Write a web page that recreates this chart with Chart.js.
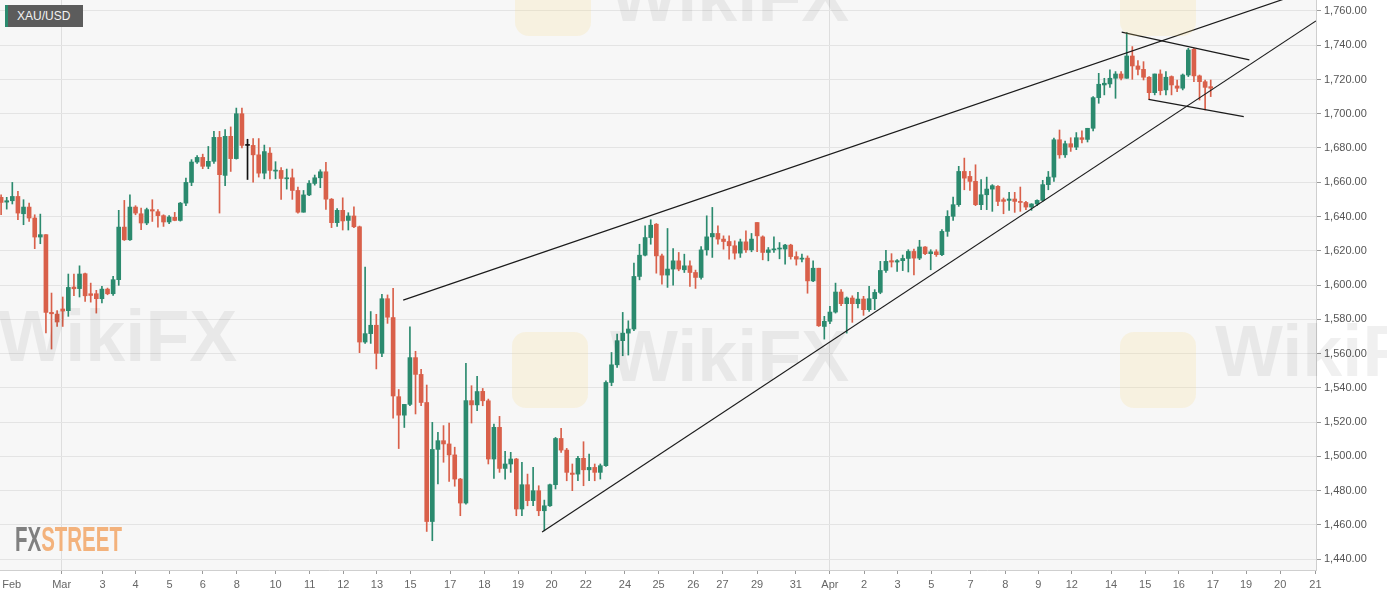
<!DOCTYPE html>
<html>
<head>
<meta charset="utf-8">
<script src="https://cdn.jsdelivr.net/npm/chart.js@4.4.1/dist/chart.umd.min.js"></script>
<style>
  html, body { margin: 0; padding: 0; background: #fff; }
  #wrap { position: relative; width: 1387px; height: 598px; overflow: hidden; }
  #chart { position: absolute; left: 0; top: 0; }
  .wm { position: absolute; font-family: "Liberation Sans", Arial, sans-serif; font-weight: bold;
        font-size: 72px; color: rgba(0,0,0,0.06); pointer-events: none; }
  .wmlogo { position: absolute; width: 76px; height: 76px; border-radius: 14px;
            background: rgba(250,215,120,0.18); pointer-events: none; }
  #pair { position: absolute; left: 5px; top: 5px; width: 78px; height: 22px; background: #5c5c5c;
          border-left: 3px solid #2b8a6e; color: #f2f2f2; font: 12px "Liberation Sans", Arial, sans-serif;
          line-height: 22px; padding-left: 9px; box-sizing: border-box; }
  #logo { position: absolute; left: 15px; top: 519px; font-family: "Liberation Sans", Arial, sans-serif;
          font-weight: bold; font-size: 35px; transform: scaleX(0.585); transform-origin: left top; white-space: nowrap; }
  #logo .fx { color: #808080; }
  #logo .st { color: #f3b27c; }
</style>
</head>
<body>
<div id="wrap">
  <canvas id="chart" width="1387" height="598"></canvas>
  <div class="wmlogo" style="left:515px;top:-40px"></div>
  <div class="wm" style="left:610px;top:-45px">WikiFX</div>
  <div class="wmlogo" style="left:1120px;top:-40px"></div>
  <div class="wm" style="left:-2px;top:295px">WikiFX</div>
  <div class="wmlogo" style="left:512px;top:332px"></div>
  <div class="wm" style="left:610px;top:315px">WikiFX</div>
  <div class="wmlogo" style="left:1120px;top:332px"></div>
  <div class="wm" style="left:1215px;top:310px">WikiFX</div>
  <div id="pair">XAU/USD</div>
  <div id="logo"><span class="fx">FX</span><span class="st">STREET</span></div>
</div>
<script>
// 4h candles, XAU/USD, late Feb - Apr 17
const opens = [
  1651.2,1648.4,1649.2,1651.7,1641.6,1645.5,1639.1,1628.0,1629.4,1584.0,
  1583.0,1586.0,1585.0,1598.8,1597.9,1606.6,1594.9,1594.9,1592.0,1597.6,
  1594.9,1603.1,1633.8,1626.4,1645.5,1641.6,1636.2,1644.0,1642.8,1640.5,
  1636.8,1639.5,1637.7,1647.8,1659.9,1671.8,1674.5,1669.3,1672.2,1686.2,
  1664.0,1686.8,1673.8,1700.0,1681.5,1681.5,1676.0,1665.3,1677.0,1666.5,
  1666.9,1662.0,1662.6,1655.2,1642.5,1652.6,1659.3,1662.6,1666.1,1650.1,
  1636.4,1643.6,1637.7,1640.3,1634.0,1566.7,1571.6,1576.5,1560.1,1592.0,
  1581.0,1534.8,1524.0,1530.3,1557.6,1547.8,1531.4,1461.9,1504.0,1509.1,
  1507.2,1500.8,1486.7,1472.7,1532.5,1530.0,1537.9,1532.4,1498.4,1516.9,
  1492.9,1495.5,1498.4,1469.2,1483.4,1474.1,1479.9,1468.2,1471.1,1483.4,
  1510.4,1503.6,1490.2,1489.6,1498.8,1492.1,1493.5,1490.6,1494.5,1543.1,
  1553.4,1567.5,1571.9,1574.3,1605.0,1617.4,1627.7,1635.5,1617.0,1605.8,
  1609.3,1614.1,1608.9,1611.2,1607.3,1604.4,1620.5,1628.1,1630.1,1626.8,
  1625.4,1622.9,1618.6,1625.2,1620.5,1636.5,1628.1,1619.0,1620.5,1621.0,
  1621.0,1623.3,1616.6,1615.1,1615.7,1602.4,1609.8,1575.8,1578.8,1584.2,
  1595.9,1589.1,1592.4,1589.1,1591.8,1585.6,1592.0,1595.7,1608.5,1614.2,
  1613.4,1614.2,1615.5,1619.6,1615.7,1622.2,1618.3,1619.4,1617.7,1631.3,
  1640.1,1646.9,1666.3,1663.4,1660.5,1646.9,1652.7,1656.0,1657.6,1649.8,
  1649.4,1650.2,1648.8,1648.2,1645.5,1647.3,1649.4,1658.6,1663.0,1684.8,
  1676.0,1682.5,1680.5,1686.0,1685.0,1691.5,1709.4,1716.8,1717.4,1720.7,
  1723.2,1720.7,1733.7,1727.9,1725.9,1721.3,1712.3,1723.2,1713.9,1721.7,
  1716.2,1714.9,1722.6,1737.6,1722.1,1718.7,1715.8
];
const highs = [
  1652.7,1651.2,1659.9,1654.7,1649.8,1647.9,1641.0,1641.4,1629.4,1595.3,
  1585.1,1593.0,1606.4,1606.4,1611.2,1607.0,1601.1,1596.9,1599.2,1598.2,
  1605.0,1643.6,1649.4,1652.7,1646.3,1644.9,1644.9,1649.8,1644.0,1641.0,
  1640.5,1642.4,1648.2,1662.4,1673.2,1675.5,1676.4,1680.9,1689.7,1689.7,
  1690.7,1692.3,1703.3,1703.3,1685.1,1685.5,1685.5,1681.7,1680.3,1672.0,
  1668.5,1667.7,1667.7,1657.1,1655.2,1660.9,1664.2,1667.3,1671.6,1650.5,
  1644.6,1650.9,1642.2,1645.6,1634.4,1610.4,1584.5,1582.9,1594.6,1594.2,
  1598.1,1539.0,1530.3,1575.6,1561.3,1550.8,1541.6,1519.8,1514.0,1517.9,
  1519.4,1505.3,1487.1,1554.3,1541.2,1546.7,1539.6,1533.4,1518.8,1523.3,
  1502.9,1502.3,1498.8,1496.4,1489.6,1493.5,1482.8,1474.4,1483.8,1511.0,
  1516.3,1504.6,1495.5,1499.9,1508.5,1501.3,1495.5,1495.5,1544.1,1560.6,
  1571.4,1584.0,1579.1,1612.8,1623.8,1634.6,1638.1,1635.9,1618.0,1633.0,
  1621.3,1619.0,1618.0,1614.1,1608.7,1622.5,1640.4,1645.3,1634.6,1628.7,
  1628.7,1625.8,1626.8,1631.6,1630.1,1636.5,1628.7,1621.9,1628.1,1624.8,
  1623.8,1623.8,1619.4,1618.0,1617.0,1614.1,1609.8,1581.7,1587.5,1601.1,
  1597.3,1593.0,1593.7,1595.7,1593.4,1599.2,1597.3,1613.8,1620.2,1618.3,
  1614.8,1617.5,1620.6,1621.0,1626.1,1622.5,1620.6,1620.6,1632.3,1643.4,
  1651.4,1669.3,1674.1,1666.3,1670.2,1661.5,1663.0,1658.6,1658.0,1650.8,
  1654.1,1654.1,1657.2,1648.8,1647.5,1649.8,1661.1,1666.3,1685.8,1690.5,
  1684.0,1686.0,1689.0,1690.0,1691.5,1710.0,1723.6,1720.7,1725.6,1724.6,
  1724.6,1747.5,1739.2,1731.0,1730.4,1721.7,1723.2,1725.6,1724.6,1722.1,
  1719.7,1723.2,1738.2,1738.2,1722.6,1719.7,1719.7
];
const lows = [
  1641.0,1644.3,1647.3,1638.1,1635.2,1637.1,1621.2,1624.1,1572.0,1562.6,
  1575.8,1575.8,1581.7,1593.7,1593.0,1590.4,1590.0,1583.6,1589.5,1594.3,
  1593.9,1599.8,1626.0,1626.0,1641.0,1632.3,1635.2,1637.1,1633.8,1634.2,
  1635.8,1637.5,1637.3,1646.3,1658.0,1671.0,1667.9,1667.9,1671.0,1642.0,
  1658.0,1666.3,1673.5,1680.0,1661.6,1660.0,1663.0,1662.0,1662.0,1662.0,
  1650.0,1656.0,1650.0,1642.0,1642.5,1652.2,1658.3,1656.8,1644.2,1633.5,
  1634.2,1632.1,1632.1,1633.5,1560.5,1565.9,1565.9,1551.0,1558.1,1577.6,
  1522.3,1504.5,1516.8,1529.5,1524.7,1529.5,1456.1,1450.7,1483.8,1496.5,
  1485.3,1482.5,1465.3,1472.1,1519.4,1526.6,1529.5,1495.5,1487.1,1490.6,
  1486.7,1490.6,1465.3,1465.3,1471.1,1471.1,1465.3,1456.5,1470.7,1480.9,
  1502.3,1485.7,1479.9,1485.7,1482.8,1485.7,1485.7,1486.7,1494.1,1541.2,
  1551.9,1558.7,1559.1,1573.3,1603.0,1617.0,1623.8,1606.9,1600.5,1598.6,
  1599.9,1608.3,1607.3,1599.1,1598.0,1603.4,1617.4,1616.1,1623.8,1620.9,
  1615.1,1615.1,1616.1,1619.0,1619.4,1619.4,1614.7,1614.1,1619.0,1615.3,
  1612.2,1615.1,1611.6,1613.5,1595.2,1601.9,1575.8,1568.4,1577.4,1583.6,
  1587.9,1571.9,1578.2,1586.6,1582.3,1584.6,1585.6,1594.9,1607.4,1610.5,
  1608.0,1608.4,1607.6,1605.9,1614.8,1617.7,1608.9,1616.7,1617.1,1628.4,
  1637.7,1645.9,1655.6,1655.2,1646.3,1644.0,1644.0,1643.0,1646.3,1641.6,
  1643.6,1642.4,1643.0,1644.0,1643.6,1646.3,1648.8,1655.6,1660.5,1674.0,
  1674.5,1678.0,1679.0,1683.0,1683.5,1690.0,1706.1,1711.0,1715.4,1709.0,
  1719.7,1720.7,1720.1,1722.6,1719.7,1708.4,1711.0,1711.0,1711.0,1711.0,
  1712.9,1713.9,1721.7,1718.7,1708.0,1702.2,1710.0
];
const closes = [
  1648.2,1649.2,1651.7,1642.0,1645.5,1639.1,1628.0,1629.4,1584.0,1583.2,
  1578.4,1584.8,1598.6,1597.8,1606.4,1593.7,1593.9,1592.0,1597.6,1594.9,
  1603.1,1633.8,1626.4,1645.5,1642.0,1636.2,1644.0,1643.2,1640.5,1636.8,
  1639.7,1637.7,1647.8,1659.9,1671.8,1674.5,1669.3,1672.2,1686.2,1664.4,
  1686.8,1673.8,1700.0,1681.5,1681.5,1676.0,1665.3,1677.9,1666.9,1667.1,
  1662.2,1662.6,1655.2,1642.5,1652.6,1659.3,1662.6,1666.1,1650.1,1636.4,
  1643.6,1637.4,1640.3,1634.0,1566.7,1571.6,1576.5,1560.1,1592.0,1581.2,
  1535.2,1524.0,1530.3,1557.6,1547.8,1531.4,1461.9,1504.0,1509.1,1507.2,
  1500.8,1486.7,1472.7,1532.5,1530.0,1537.8,1532.4,1498.4,1516.9,1492.9,
  1495.5,1498.4,1469.2,1483.4,1474.1,1479.9,1468.2,1471.1,1483.4,1510.4,
  1503.6,1490.6,1489.4,1498.8,1492.1,1493.5,1490.6,1494.5,1543.1,1553.4,
  1567.5,1571.9,1574.3,1605.0,1617.4,1627.7,1634.9,1617.0,1605.8,1609.3,
  1614.1,1609.3,1611.2,1607.3,1604.4,1620.5,1628.1,1630.1,1626.8,1625.4,
  1622.9,1618.6,1625.2,1620.5,1626.8,1628.7,1619.0,1620.5,1621.1,1621.3,
  1623.3,1616.6,1615.1,1615.7,1602.4,1609.8,1576.2,1578.8,1584.2,1595.9,
  1589.1,1592.4,1589.1,1591.8,1585.6,1592.0,1595.7,1608.5,1613.8,1613.4,
  1614.2,1615.5,1619.6,1615.7,1622.2,1618.3,1619.4,1617.7,1631.3,1640.1,
  1646.9,1666.3,1662.4,1660.5,1646.9,1652.7,1656.0,1658.0,1648.8,1648.8,
  1650.2,1648.8,1648.2,1645.5,1647.3,1649.4,1658.6,1663.0,1684.8,1676.0,
  1682.5,1680.5,1686.0,1685.0,1691.5,1709.4,1717.2,1717.8,1720.7,1723.2,
  1720.7,1733.7,1727.9,1725.9,1721.3,1712.3,1723.2,1713.5,1721.3,1716.8,
  1714.9,1722.6,1737.2,1722.1,1718.7,1715.4,1714.9
];

// x-axis labels and their positions (in candle slots)
const tickLabels = ['Feb','Mar','3','4','5','6','8','10','11','12','13','15','17','18','19','20','22','24','25','26',
  '27','29','31','Apr','2','3','5','7','8','9','12','14','15','16','17','19','20','21'];
const tickSlots = [1.9,10.8,18.1,24.0,30.1,36.0,42.1,49.0,55.1,61.1,67.1,73.1,80.2,86.3,92.3,98.3,104.4,111.4,117.4,123.6,
  128.8,135.0,141.9,148.0,154.1,160.1,166.1,173.1,179.3,185.2,191.2,198.2,204.3,210.3,216.4,222.3,228.4,234.7];

// trend lines drawn on the chart: [x1, y1, x2, y2]
const wedgeTop = [71.8, 1591.2, 234.5, 1773.0];
const wedgeBottom = [96.6, 1455.8, 234.8, 1754.2];
const channelTop = [200.1, 1747.6, 222.9, 1731.4];
const channelBottom = [204.9, 1708.4, 221.9, 1698.3];

const UP = '#2b8a6e';
const DOWN = '#d9604a';
const candleColor = opens.map((o, i) => closes[i] > o ? UP : (closes[i] < o ? DOWN : '#111'));

const fontFamily = '"Liberation Sans", Arial, sans-serif';

function lineDs(seg) {
  return {
    type: 'line',
    data: [{ x: seg[0], y: seg[1] }, { x: seg[2], y: seg[3] }],
    borderColor: '#1b1b1b',
    borderWidth: 1.2,
    pointRadius: 0,
    fill: false,
    order: 0
  };
}

const plotBg = {
  id: 'plotBg',
  beforeDraw(chart) {
    const { ctx, chartArea } = chart;
    ctx.save();
    ctx.fillStyle = '#f7f7f7';
    ctx.fillRect(chartArea.left, chartArea.top, chartArea.right - chartArea.left, chartArea.bottom - chartArea.top);
    ctx.restore();
  }
};

function noPad(s) {
  s.paddingTop = 0;
  s.paddingBottom = 0;
  s.paddingLeft = 0;
  s.paddingRight = 0;
}

const ctx = document.getElementById('chart').getContext('2d');
new Chart(ctx, {
  type: 'bar',
  data: {
    datasets: [
      {
        label: 'wick',
        data: highs.map((h, i) => ({ x: i, y: [lows[i], h] })),
        backgroundColor: candleColor,
        barThickness: 1,
        grouped: false,
        order: 2
      },
      {
        label: 'body',
        data: opens.map((o, i) => ({ x: i, y: [Math.min(o, closes[i]), Math.max(o, closes[i])] })),
        backgroundColor: candleColor,
        barThickness: 4,
        minBarLength: 1,
        grouped: false,
        order: 1
      },
      lineDs(wedgeTop),
      lineDs(wedgeBottom),
      lineDs(channelTop),
      lineDs(channelBottom)
    ]
  },
  options: {
    responsive: false,
    animation: false,
    layout: { padding: 0 },
    plugins: { legend: { display: false }, tooltip: { enabled: false } },
    scales: {
      x: {
        type: 'linear',
        min: -0.2,
        max: 234.8,
        offset: false,
        afterBuildTicks: s => { s.ticks = tickSlots.map(v => ({ value: v })); },
        afterFit: s => { s.height = 28; noPad(s); },
        grid: {
          offset: false,
          color: c => (tickLabels[c.index] === 'Mar' || tickLabels[c.index] === 'Apr') ? '#dedede' : 'rgba(0,0,0,0)',
          tickColor: c => c.index === 0 ? 'rgba(0,0,0,0)' : '#9a9a9a',
          tickLength: 4
        },
        border: { color: '#cfcfcf' },
        ticks: {
          callback: (v, i) => tickLabels[i],
          color: '#666',
          font: { family: fontFamily, size: 11 },
          padding: 4,
          maxRotation: 0,
          autoSkip: false
        }
      },
      y: {
        position: 'right',
        min: 1433.6,
        max: 1766.4,
        afterFit: s => { s.width = 71; noPad(s); },
        grid: { color: '#e4e4e4', tickColor: '#9a9a9a', tickLength: 5 },
        border: { color: '#cfcfcf' },
        ticks: {
          stepSize: 20,
          includeBounds: false,
          color: '#555',
          padding: 3,
          font: { family: fontFamily, size: 11 },
          callback: v => v.toLocaleString('en-US', { minimumFractionDigits: 2, maximumFractionDigits: 2 })
        }
      }
    }
  },
  plugins: [plotBg]
});
</script>
</body>
</html>
